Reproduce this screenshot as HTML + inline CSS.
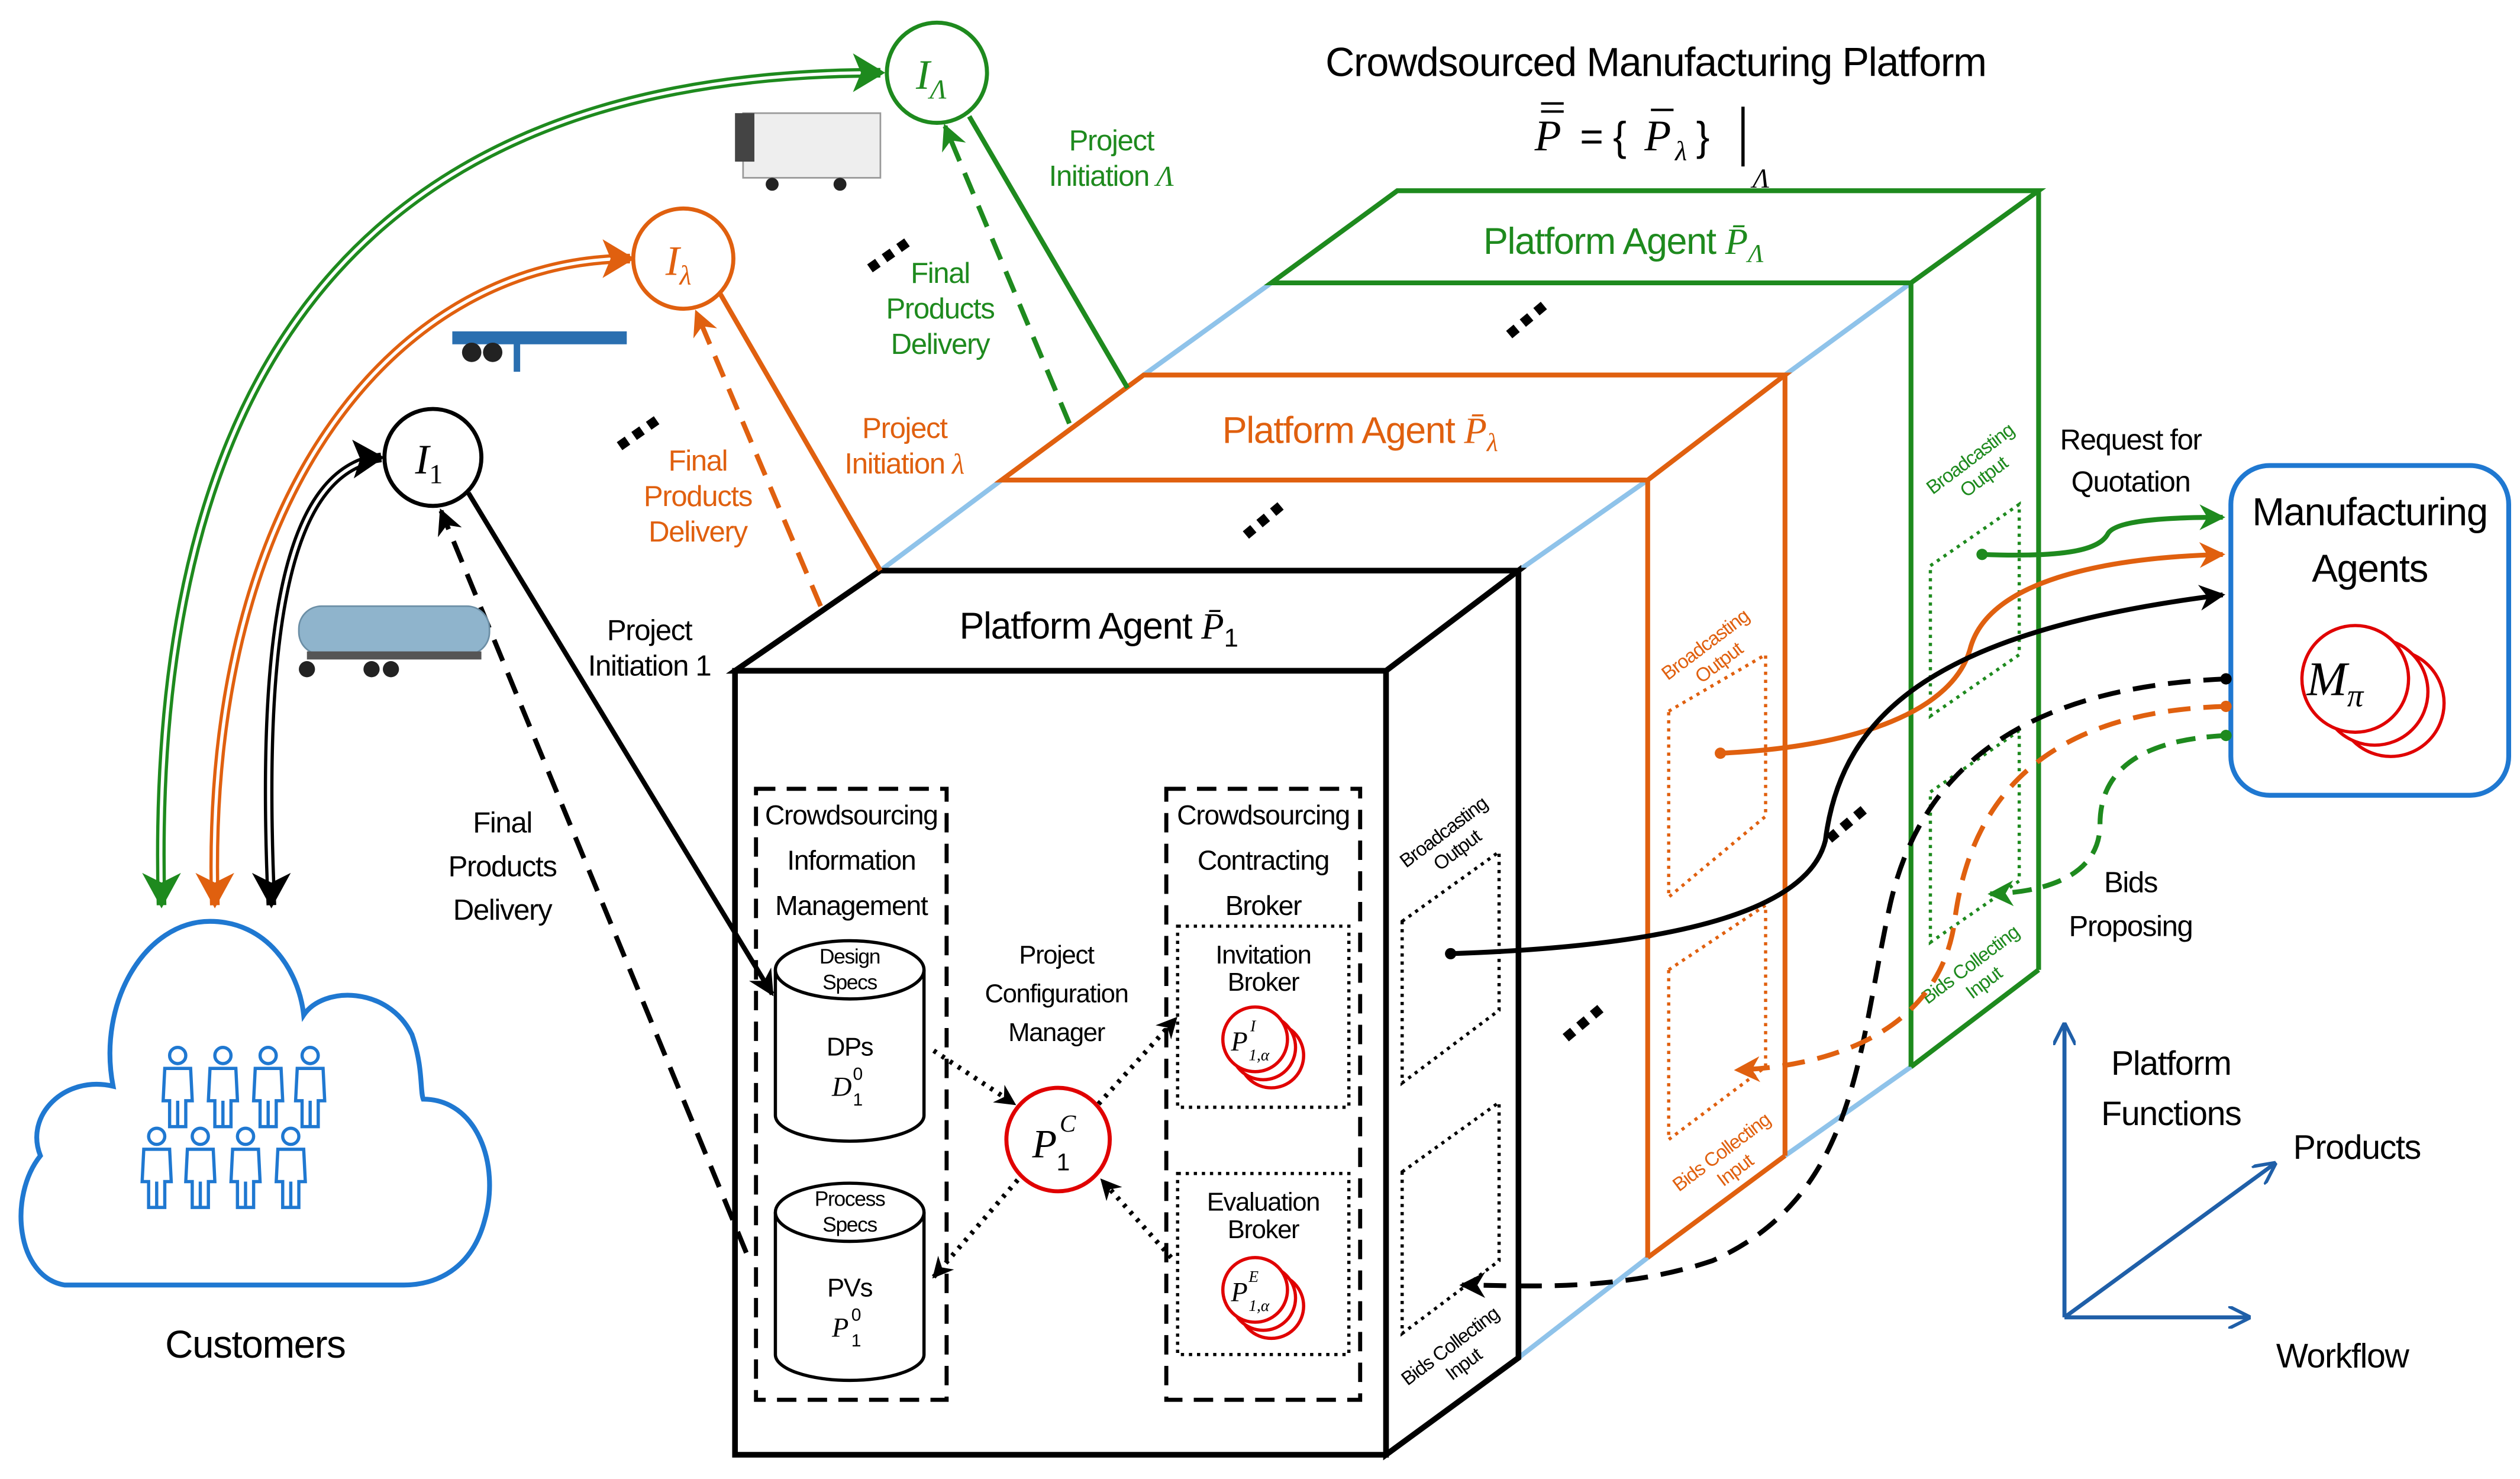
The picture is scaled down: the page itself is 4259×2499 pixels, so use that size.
<!DOCTYPE html>
<html><head><meta charset="utf-8"><style>
html,body{margin:0;padding:0;background:#fff;}
svg{display:block;}
text{font-family:"Liberation Sans",sans-serif;letter-spacing:-0.5px;}
.m{font-family:"Liberation Serif",serif;font-style:italic;letter-spacing:0;}
</style></head><body>
<svg width="4259" height="2499" viewBox="0 0 1560 915" preserveAspectRatio="none" xmlns="http://www.w3.org/2000/svg">
<defs>
<marker id="ak" viewBox="0 0 10 10" refX="9" refY="5" markerWidth="13" markerHeight="13" orient="auto-start-reverse" markerUnits="userSpaceOnUse"><path d="M0,0 L10,5 L0,10 L3,5 z" fill="#000"/></marker>
<marker id="akb" viewBox="0 0 10 10" refX="9" refY="5" markerWidth="16" markerHeight="16" orient="auto-start-reverse" markerUnits="userSpaceOnUse"><path d="M0,0 L10,5 L0,10 L3,5 z" fill="#000"/></marker>
<marker id="aob" viewBox="0 0 10 10" refX="9" refY="5" markerWidth="16" markerHeight="16" orient="auto-start-reverse" markerUnits="userSpaceOnUse"><path d="M0,0 L10,5 L0,10 L3,5 z" fill="#e0600f"/></marker>
<marker id="agb" viewBox="0 0 10 10" refX="9" refY="5" markerWidth="16" markerHeight="16" orient="auto-start-reverse" markerUnits="userSpaceOnUse"><path d="M0,0 L10,5 L0,10 L3,5 z" fill="#1e8a1e"/></marker>
<marker id="ab" viewBox="0 0 10 10" refX="9" refY="5" markerWidth="14" markerHeight="14" orient="auto" markerUnits="userSpaceOnUse"><path d="M0,0 L10,5 L0,10" fill="none" stroke="#1f5fa8" stroke-width="1.5"/></marker>
<g id="pp" fill="none" stroke="#1f78d1" stroke-width="2"><circle cx="0" cy="-22" r="5"/><path d="M-8,-14 L8,-14 L9,6 L5,6 L5,22 L-5,22 L-5,6 L-9,6 Z M0,6 L0,22"/></g>
</defs>

<!-- light blue connectors -->
<g stroke="#8fc3ea" stroke-width="3" fill="none">
<line x1="545" y1="353" x2="620" y2="297"/><line x1="708" y1="232" x2="787" y2="175"/>
<line x1="940" y1="353" x2="1020" y2="297"/><line x1="1105" y1="232" x2="1183" y2="175"/>
<line x1="940" y1="840" x2="1020" y2="778"/><line x1="1105" y1="715" x2="1183" y2="660"/>
</g>

<!-- green box -->
<g stroke="#1e8a1e" stroke-width="3" fill="none">
<polygon points="787,175 865,118 1262,118 1183,175"/>
<line x1="1183" y1="175" x2="1183" y2="660"/><line x1="1262" y1="118" x2="1262" y2="600"/><line x1="1183" y1="660" x2="1262" y2="600"/>
</g>
<g stroke="#1e8a1e" stroke-width="2" stroke-dasharray="2,3" fill="none">
<polygon points="1195,350 1250,312 1250,405 1195,443"/>
<polygon points="1195,490 1250,452 1250,545 1195,583"/>
</g>
<text x="1005" y="157" font-size="23" fill="#1e8a1e" text-anchor="middle">Platform Agent <tspan class="m">P̄</tspan><tspan class="m" font-size="16" dy="5">Λ</tspan></text>
<text transform="translate(1222,287) rotate(-37)" font-size="12" fill="#1e8a1e" text-anchor="middle">Broadcasting<tspan x="0" dy="14">Output</tspan></text>
<text transform="translate(1222,600) rotate(-37)" font-size="12" fill="#1e8a1e" text-anchor="middle">Bids Collecting<tspan x="0" dy="14">Input</tspan></text>

<!-- orange box -->
<polygon points="620,297 708,232 1105,232 1020,297" fill="#fff" stroke="#e0600f" stroke-width="3"/>
<g stroke="#e0600f" stroke-width="3" fill="none">
<line x1="1020" y1="297" x2="1020" y2="778"/><line x1="1105" y1="232" x2="1105" y2="715"/><line x1="1020" y1="778" x2="1105" y2="715"/>
</g>
<g stroke="#e0600f" stroke-width="2" stroke-dasharray="2,3" fill="none">
<polygon points="1033,440 1093,405 1093,505 1033,555"/>
<polygon points="1033,600 1093,560 1093,660 1033,705"/>
</g>
<text x="842" y="274" font-size="23" fill="#e0600f" text-anchor="middle">Platform Agent <tspan class="m">P̄</tspan><tspan class="m" font-size="16" dy="5">λ</tspan></text>
<text transform="translate(1058,402) rotate(-37)" font-size="12" fill="#e0600f" text-anchor="middle">Broadcasting<tspan x="0" dy="14">Output</tspan></text>
<text transform="translate(1068,716) rotate(-37)" font-size="12" fill="#e0600f" text-anchor="middle">Bids Collecting<tspan x="0" dy="14">Input</tspan></text>

<!-- front black box -->
<g fill="#fff" stroke="#000" stroke-width="3.5">
<polygon points="455,415 545,353 940,353 858,415"/>
<polygon points="858,415 940,353 940,840 858,900"/>
<rect x="455" y="415" width="403" height="485"/>
</g>
<text x="680" y="395" font-size="23" text-anchor="middle">Platform Agent <tspan class="m">P̄</tspan><tspan font-size="16" dy="5">1</tspan></text>
<g stroke="#000" stroke-width="2" stroke-dasharray="2,3" fill="none">
<polygon points="868,570 928,527 928,625 868,670"/>
<polygon points="868,725 928,682 928,780 868,825"/>
</g>
<text transform="translate(896,518) rotate(-37)" font-size="12" text-anchor="middle">Broadcasting<tspan x="0" dy="14">Output</tspan></text>
<text transform="translate(900,836) rotate(-37)" font-size="12" text-anchor="middle">Bids Collecting<tspan x="0" dy="14">Input</tspan></text>

<!-- dashed modules -->
<g stroke="#000" stroke-width="2.5" stroke-dasharray="12,7" fill="none">
<rect x="468" y="488" width="118" height="378"/>
<rect x="722" y="488" width="120" height="378"/>
</g>
<g font-size="17" text-anchor="middle">
<text x="527" y="510">Crowdsourcing</text><text x="527" y="538">Information</text><text x="527" y="566">Management</text>
<text x="782" y="510">Crowdsourcing</text><text x="782" y="538">Contracting</text><text x="782" y="566">Broker</text>
<text x="654" y="596" font-size="16">Project</text><text x="654" y="620" font-size="16">Configuration</text><text x="654" y="644" font-size="16">Manager</text>
</g>
<!-- cylinders -->
<g stroke="#000" stroke-width="2" fill="#fff">
<path d="M480,600 L480,690 A46,16 0 0 0 572,690 L572,600"/><ellipse cx="526" cy="600" rx="46" ry="18"/>
<path d="M480,750 L480,838 A46,16 0 0 0 572,838 L572,750"/><ellipse cx="526" cy="750" rx="46" ry="18"/>
</g>
<g text-anchor="middle">
<text x="526" y="596" font-size="13">Design</text><text x="526" y="612" font-size="13">Specs</text>
<text x="526" y="653" font-size="16">DPs</text>
<text x="526" y="746" font-size="13">Process</text><text x="526" y="762" font-size="13">Specs</text>
<text x="526" y="802" font-size="16">PVs</text>
</g>
<text x="515" y="678" font-size="17" class="m">D</text><text x="528" y="684" font-size="11">1</text><text x="528" y="668" font-size="11">0</text>
<text x="515" y="827" font-size="17" class="m">P</text><text x="527" y="833" font-size="11">1</text><text x="527" y="817" font-size="11">0</text>
<!-- brokers -->
<g stroke="#000" stroke-width="2" stroke-dasharray="2,3" fill="none">
<rect x="729" y="573" width="106" height="112"/>
<rect x="729" y="726" width="106" height="112"/>
</g>
<text x="782" y="596" font-size="16" text-anchor="middle">Invitation</text><text x="782" y="613" font-size="16" text-anchor="middle">Broker</text>
<text x="782" y="749" font-size="16" text-anchor="middle">Evaluation</text><text x="782" y="766" font-size="16" text-anchor="middle">Broker</text>
<g stroke="#e00000" stroke-width="2" fill="#fff">
<circle cx="787" cy="653" r="20"/><circle cx="782" cy="648" r="20"/><circle cx="777" cy="643" r="20"/>
<circle cx="787" cy="808" r="20"/><circle cx="782" cy="803" r="20"/><circle cx="777" cy="798" r="20"/>
</g>
<text x="762" y="650" font-size="17" class="m">P</text><text x="773" y="656" font-size="10" class="m">1,α</text><text x="774" y="638" font-size="10" class="m">I</text>
<text x="762" y="805" font-size="17" class="m">P</text><text x="773" y="811" font-size="10" class="m">1,α</text><text x="773" y="793" font-size="10" class="m">E</text>
<circle cx="655" cy="705" r="32" fill="#fff" stroke="#e00000" stroke-width="2.5"/>
<text x="639" y="716" font-size="25" class="m">P</text><text x="654" y="724" font-size="15">1</text><text x="656" y="700" font-size="15" class="m">C</text>
<g stroke="#000" stroke-width="3" stroke-dasharray="2,4" fill="none">
<line x1="578" y1="650" x2="628" y2="683" marker-end="url(#ak)"/>
<line x1="630" y1="730" x2="578" y2="790" marker-end="url(#ak)"/>
<line x1="680" y1="683" x2="728" y2="630" marker-end="url(#ak)"/>
<line x1="725" y1="778" x2="682" y2="730" marker-end="url(#ak)"/>
</g>

<!-- customer links -->
<path d="M100,560 C90,200 250,45 545,45" stroke="#1e8a1e" stroke-width="6" fill="none"/>
<path d="M100,560 C90,200 250,45 545,45" stroke="#fff" stroke-width="2" fill="none"/>
<path d="M133,560 C125,300 250,160 390,160" stroke="#e0600f" stroke-width="6" fill="none"/>
<path d="M133,560 C125,300 250,160 390,160" stroke="#fff" stroke-width="2" fill="none"/>
<path d="M168,560 C160,380 180,290 236,283" stroke="#000" stroke-width="6" fill="none"/>
<path d="M168,560 C160,380 180,290 236,283" stroke="#fff" stroke-width="2" fill="none"/>
<path d="M548,45 L528,33 L533,45 L528,57z" fill="#1e8a1e"/><path d="M100,562 L88,540 L100,546 L112,540z" fill="#1e8a1e"/>
<path d="M393,160 L373,148 L378,160 L373,172z" fill="#e0600f"/><path d="M133,562 L121,540 L133,546 L145,540z" fill="#e0600f"/>
<path d="M238,283 L218,272 L223,284 L219,296z" fill="#000"/><path d="M168,562 L156,540 L168,546 L180,540z" fill="#000"/>

<!-- initiation circles -->
<circle cx="580" cy="45" r="31" fill="#fff" stroke="#1e8a1e" stroke-width="2.5"/>
<text x="567" y="55" font-size="26" class="m" fill="#1e8a1e">I<tspan font-size="17" dy="6">Λ</tspan></text>
<circle cx="423" cy="160" r="31" fill="#fff" stroke="#e0600f" stroke-width="2.5"/>
<text x="412" y="170" font-size="26" class="m" fill="#e0600f">I<tspan font-size="17" dy="6">λ</tspan></text>
<circle cx="268" cy="283" r="30" fill="#fff" stroke="#000" stroke-width="2.5"/>
<text x="257" y="293" font-size="26" class="m">I<tspan font-size="17" dy="6" font-style="normal">1</tspan></text>

<!-- project initiation lines -->
<line x1="290" y1="305" x2="478" y2="615" stroke="#000" stroke-width="3" marker-end="url(#akb)"/>
<line x1="462" y1="775" x2="273" y2="316" stroke="#000" stroke-width="3" stroke-dasharray="14,8" marker-end="url(#akb)"/>
<line x1="446" y1="182" x2="545" y2="353" stroke="#e0600f" stroke-width="3"/>
<line x1="508" y1="375" x2="431" y2="193" stroke="#e0600f" stroke-width="3" stroke-dasharray="14,8" marker-end="url(#aob)"/>
<line x1="600" y1="72" x2="698" y2="240" stroke="#1e8a1e" stroke-width="3"/>
<line x1="662" y1="262" x2="585" y2="78" stroke="#1e8a1e" stroke-width="3" stroke-dasharray="14,8" marker-end="url(#agb)"/>

<!-- labels -->
<g font-size="18" text-anchor="middle">
<text x="402" y="396">Project</text><text x="402" y="418">Initiation 1</text>
<text x="311" y="515">Final</text><text x="311" y="542">Products</text><text x="311" y="569">Delivery</text>
<g fill="#e0600f"><text x="432" y="291">Final</text><text x="432" y="313">Products</text><text x="432" y="335">Delivery</text>
<text x="560" y="271">Project</text><text x="560" y="293">Initiation <tspan class="m">λ</tspan></text></g>
<g fill="#1e8a1e"><text x="582" y="175">Final</text><text x="582" y="197">Products</text><text x="582" y="219">Delivery</text>
<text x="688" y="93">Project</text><text x="688" y="115">Initiation <tspan class="m">Λ</tspan></text></g>
<text x="1025" y="47" font-size="25">Crowdsourced Manufacturing Platform</text>
<text x="1319" y="278">Request for</text><text x="1319" y="304">Quotation</text>
<text x="1319" y="552">Bids</text><text x="1319" y="579">Proposing</text>
<text x="1344" y="665" font-size="21">Platform</text><text x="1344" y="696" font-size="21">Functions</text>
<text x="1459" y="717" font-size="21">Products</text>
<text x="1450" y="846" font-size="21">Workflow</text>
<text x="158" y="840" font-size="24">Customers</text>
</g>
<!-- formula -->
<text x="950" y="93" font-size="27" class="m">P</text>
<line x1="954" y1="64" x2="968" y2="64" stroke="#000" stroke-width="1.5"/><line x1="954" y1="69" x2="968" y2="69" stroke="#000" stroke-width="1.5"/>
<text x="978" y="93" font-size="25" font-family="Liberation Serif">= {</text>
<text x="1018" y="93" font-size="27" class="m">P</text>
<line x1="1022" y1="68" x2="1036" y2="68" stroke="#000" stroke-width="1.5"/>
<text x="1037" y="99" font-size="17" class="m">λ</text>
<text x="1050" y="93" font-size="25" font-family="Liberation Serif">}</text>
<line x1="1079" y1="66" x2="1079" y2="103" stroke="#000" stroke-width="2"/>
<text x="1085" y="116" font-size="17" class="m">Λ</text>

<!-- ellipsis dots -->
<g fill="#000">
<g transform="translate(395,268) rotate(-35)"><rect x="-14" y="-3" width="6" height="6"/><rect x="-3" y="-3" width="6" height="6"/><rect x="8" y="-3" width="6" height="6"/></g>
<g transform="translate(550,158) rotate(-35)"><rect x="-14" y="-3" width="6" height="6"/><rect x="-3" y="-3" width="6" height="6"/><rect x="8" y="-3" width="6" height="6"/></g>
<g transform="translate(782,322) rotate(-40)"><rect x="-14" y="-3" width="6" height="6"/><rect x="-3" y="-3" width="6" height="6"/><rect x="8" y="-3" width="6" height="6"/></g>
<g transform="translate(945,198) rotate(-40)"><rect x="-14" y="-3" width="6" height="6"/><rect x="-3" y="-3" width="6" height="6"/><rect x="8" y="-3" width="6" height="6"/></g>
<g transform="translate(980,633) rotate(-40)"><rect x="-14" y="-3" width="6" height="6"/><rect x="-3" y="-3" width="6" height="6"/><rect x="8" y="-3" width="6" height="6"/></g>
<g transform="translate(1143,510) rotate(-40)"><rect x="-14" y="-3" width="6" height="6"/><rect x="-3" y="-3" width="6" height="6"/><rect x="8" y="-3" width="6" height="6"/></g>
</g>

<!-- manufacturing agents -->
<rect x="1381" y="288" width="172" height="204" rx="24" fill="#fff" stroke="#1f78d1" stroke-width="3"/>
<text x="1467" y="325" font-size="24" text-anchor="middle">Manufacturing</text>
<text x="1467" y="360" font-size="24" text-anchor="middle">Agents</text>
<g stroke="#e00000" stroke-width="2" fill="#fff">
<circle cx="1480" cy="435" r="33"/><circle cx="1470" cy="428" r="33"/><circle cx="1458" cy="420" r="33"/>
</g>
<text x="1428" y="430" font-size="30" class="m">M<tspan font-size="20" dy="7">π</tspan></text>

<!-- right connectors -->
<path d="M1227,343 C1280,345 1300,340 1305,330 C1310,322 1340,320 1376,320" stroke="#1e8a1e" stroke-width="3" fill="none" marker-end="url(#agb)"/>
<circle cx="1227" cy="343" r="3.5" fill="#1e8a1e"/>
<path d="M1065,466 C1150,462 1210,440 1220,400 C1232,360 1300,345 1376,343" stroke="#e0600f" stroke-width="3" fill="none" marker-end="url(#aob)"/>
<circle cx="1065" cy="466" r="3.5" fill="#e0600f"/>
<path d="M898,590 C1050,585 1120,560 1130,520 C1140,440 1200,390 1376,368" stroke="#000" stroke-width="3" fill="none" marker-end="url(#akb)"/>
<circle cx="898" cy="590" r="3.5"/>
<path d="M1378,420 C1260,425 1190,470 1170,560 C1150,650 1150,740 1060,780 C1000,800 940,795 905,795" stroke="#000" stroke-width="3" stroke-dasharray="14,8" fill="none" marker-end="url(#akb)"/>
<circle cx="1378" cy="420" r="3.5"/>
<path d="M1378,437 C1270,440 1220,490 1210,570 C1200,640 1130,660 1075,662" stroke="#e0600f" stroke-width="3" stroke-dasharray="14,8" fill="none" marker-end="url(#aob)"/>
<circle cx="1378" cy="437" r="3.5" fill="#e0600f"/>
<path d="M1378,455 C1320,458 1300,480 1300,510 C1300,540 1270,552 1232,553" stroke="#1e8a1e" stroke-width="3" stroke-dasharray="12,7" fill="none" marker-end="url(#agb)"/>
<circle cx="1378" cy="455" r="3.5" fill="#1e8a1e"/>

<!-- axes -->
<g stroke="#1f5fa8" stroke-width="2.5" fill="none">
<line x1="1278" y1="815" x2="1278" y2="634" marker-end="url(#ab)"/>
<line x1="1278" y1="815" x2="1392" y2="815" marker-end="url(#ab)"/>
<line x1="1278" y1="815" x2="1408" y2="720" marker-end="url(#ab)"/>
</g>

<!-- cloud -->
<path d="M40,795 C10,790 5,740 25,715 C15,690 40,665 70,672 C60,620 90,570 130,570 C165,570 185,600 188,628 C200,610 240,610 255,640 C262,660 260,675 262,680 C295,680 310,720 300,755 C292,785 270,795 250,795 Z" fill="#fff" stroke="#1f78d1" stroke-width="3"/>
<use href="#pp" x="110" y="675"/><use href="#pp" x="138" y="675"/><use href="#pp" x="166" y="675"/><use href="#pp" x="192" y="675"/>
<use href="#pp" x="97" y="725"/><use href="#pp" x="124" y="725"/><use href="#pp" x="152" y="725"/><use href="#pp" x="180" y="725"/>

<!-- trucks (simplified) -->
<rect x="460" y="70" width="85" height="40" fill="#eee" stroke="#999"/><rect x="455" y="70" width="12" height="30" fill="#444"/>
<circle cx="478" cy="114" r="4" fill="#222"/><circle cx="520" cy="114" r="4" fill="#222"/>
<rect x="280" y="205" width="108" height="8" fill="#2a6fb0"/><circle cx="292" cy="218" r="6" fill="#222"/><circle cx="305" cy="218" r="6" fill="#222"/><rect x="318" y="212" width="4" height="18" fill="#2a6fb0"/>
<rect x="185" y="375" width="118" height="30" rx="14" fill="#8fb4cc" stroke="#6b8ea5"/><rect x="190" y="403" width="108" height="5" fill="#555"/>
<circle cx="190" cy="414" r="5" fill="#222"/><circle cx="230" cy="414" r="5" fill="#222"/><circle cx="242" cy="414" r="5" fill="#222"/>
</svg>
</body></html>
